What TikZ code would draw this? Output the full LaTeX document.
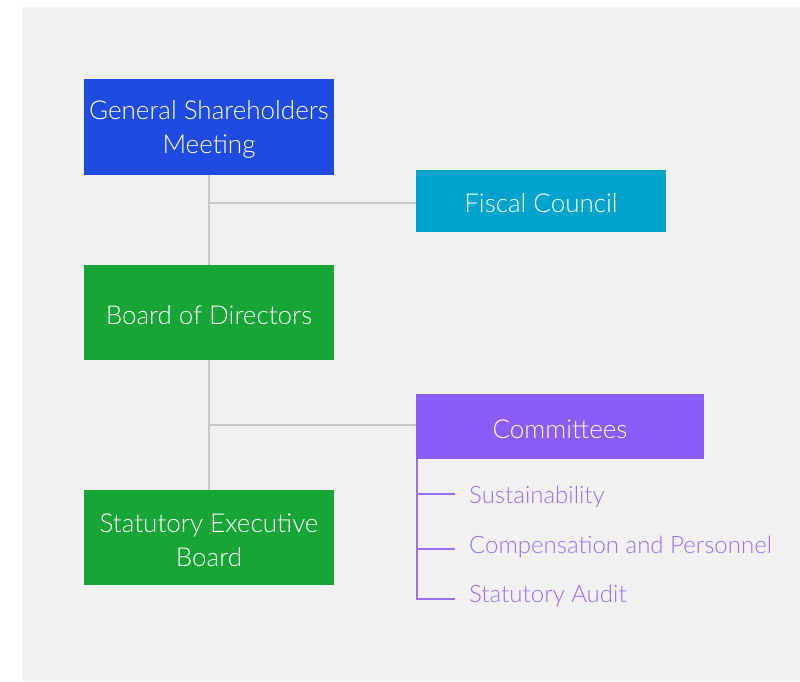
\documentclass[tikz,border=0pt]{standalone}
\usepackage{fontspec}
\setmainfont{Lato Light}
\definecolor{bgc}{HTML}{F1F1F1}
\definecolor{gsmc}{HTML}{204BE0}
\definecolor{fisc}{HTML}{00A3CC}
\definecolor{grn}{HTML}{17A636}
\definecolor{purp}{HTML}{8B5CF6}
\definecolor{purtx}{HTML}{9B6FF3}
\definecolor{linec}{HTML}{C8C8C8}
\begin{document}
\begin{tikzpicture}[x=1pt,y=-1pt,
  box/.style={rectangle, inner sep=0pt, minimum width=250pt,
    label={[text=white, font=\fontsize{26}{34}\selectfont, align=center, yshift=-2.5pt, inner sep=0pt]center:#1}},
  conn/.style={draw=linec, line width=1.2pt},
  pconn/.style={draw=purtx, line width=1.2pt},
  item/.style={anchor=west, inner sep=0pt, text=purtx, font=\fontsize{24}{28}\selectfont}]
\useasboundingbox (0,0) rectangle (800,681);
\fill[bgc] (23,7) rectangle (800,681);
\node[box={General Shareholders\\Meeting}, fill=gsmc, minimum height=96pt] (gsm) at (209,127) {};
\node[box={Fiscal Council}, fill=fisc, minimum height=62pt] (fis) at (541,201) {};
\node[box={Board of Directors}, fill=grn, minimum height=95pt] (bod) at (209,312.5) {};
\node[box={Committees}, fill=purp, minimum width=288pt, minimum height=65pt] (com) at (560,426.5) {};
\node[box={Statutory Executive\\Board}, fill=grn, minimum height=95pt] (seb) at (209,537.5) {};
\coordinate (j1) at (209,203);
\coordinate (j2) at (209,425);
\draw[conn] (gsm.south) -- (bod.north);
\draw[conn] (bod.south) -- (seb.north);
\draw[conn] (j1) -- (j1 -| fis.west);
\draw[conn] (j2) -- (j2 -| com.west);
\node[item] (s1) at (469,496.5) {Sustainability};
\node[item] (s2) at (469,546.5) {Compensation and Personnel};
\node[item] (s3) at (469,595.5) {Statutory Audit};
\coordinate (top) at (417,459);
\coordinate (t1) at (417,494);
\coordinate (t2) at (417,549);
\coordinate (t3) at (417,599);
\coordinate (e1) at (455,494);
\coordinate (e2) at (455,549);
\coordinate (e3) at (455,599);
\draw[pconn] (top) -- (t3) -- (e3);
\draw[pconn] (t1) -- (e1);
\draw[pconn] (t2) -- (e2);
\end{tikzpicture}
\end{document}
